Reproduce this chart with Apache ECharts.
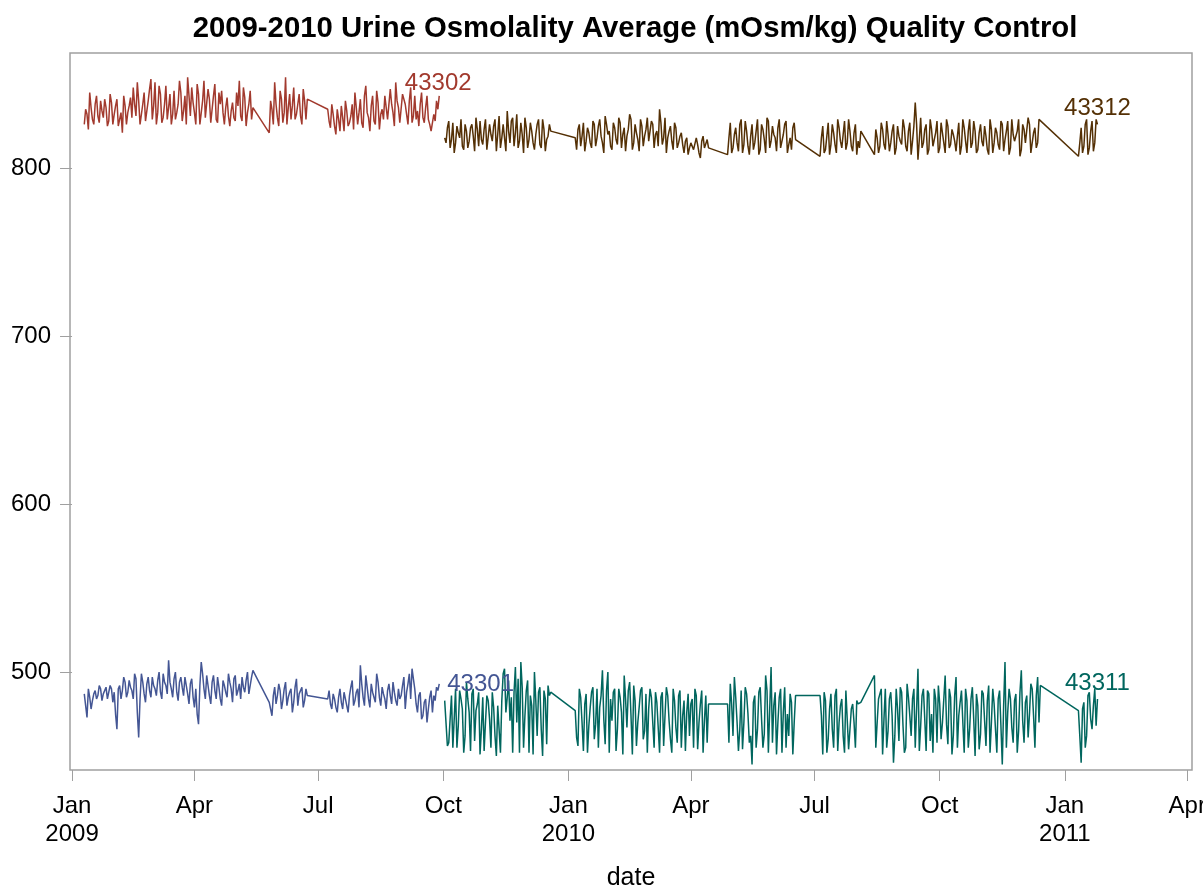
<!DOCTYPE html>
<html>
<head>
<meta charset="utf-8">
<script src="https://cdn.jsdelivr.net/npm/echarts@6/dist/echarts.min.js"></script>
<style>html,body{margin:0;padding:0;background:#fff}#c{width:1203px;height:886px}</style>
</head>
<body>
<div id="c"></div>
<script>
// Days since 2009-01-01 (two interleaved sampling lists per period)
const days09 = [9,11,13,15,17,19,21,23,25,27,29,31,33,35,37,39,41,43,45,47,49,51,53,55,57,59,61,63,65,67,69,71,73,75,77,79,81,83,85,87,89,91,93,95,97,99,101,103,105,107,109,111,113,115,117,119,121,123,125,127,129,131,133,
145,147,149,151,153,155,157,159,161,163,165,167,169,171,173,
188,190,192,194,196,198,200,202,204,206,208,210,212,214,216,218,220,222,224,226,228,230,232,234,236,238,240,242,244,246,248,250,252,254,256,258,260,262,264,266,268,270];
const days09b = [10,12,14,16,18,20,22,24,26,28,30,32,34,36,38,40,42,44,46,48,50,52,54,56,58,60,62,64,66,68,70,72,74,76,78,80,82,84,86,88,90,92,94,96,98,100,102,104,106,108,110,112,114,116,118,120,122,124,126,128,130,132,
146,148,150,152,154,156,158,160,162,164,166,168,170,172,
189,191,193,195,197,199,201,203,205,207,209,211,213,215,217,219,221,223,225,227,229,231,233,235,237,239,241,243,245,247,249,251,253,255,257,259,261,263,265,267,269];

const v43301 = [487,473,485,483,489,486,490,487,491,485,490,488,466,492,489,494,488,491,484,496,461,499,487,493,489,497,490,495,488,499,492,507,490,496,488,494,491,497,487,493,485,490,469,506,490,498,486,494,489,497,484,495,488,499,490,496,486,493,497,488,500,492,501,
482,474,491,486,489,483,494,485,490,482,496,487,491,483,486,
484,481,487,479,485,482,488,480,486,495,483,490,504,485,498,484,493,487,499,485,491,484,489,486,494,483,490,486,497,488,499,502,490,476,488,474,484,478,489,486,491,493];
const v43301b = [480,490,478,487,484,492,483,488,484,492,482,475,490,484,497,485,495,489,499,476,484,494,482,497,485,492,486,500,484,494,487,494,485,500,483,497,486,492,481,496,479,475,492,499,484,492,481,498,484,491,480,492,485,494,482,498,489,484,491,495,487,497,
478,486,481,493,478,490,480,488,476,491,480,488,479,490,
489,478,484,476,490,478,484,476,491,480,488,479,493,480,491,479,488,482,494,480,487,478,493,481,488,480,484,492,478,493,484,496,481,486,472,482,470,485,476,483,489];

const v43302 = [826,832,845,829,838,831,840,830,836,828,839,832,841,829,821,837,833,842,848,831,840,827,845,834,847,829,851,833,844,830,849,836,826,846,833,852,828,843,854,831,839,826,844,833,852,829,841,835,850,827,838,833,836,831,834,830,845,852,828,842,833,846,836,
821,835,851,830,846,827,854,836,829,848,832,844,826,840,841,
835,824,832,820,829,837,822,834,827,838,845,826,841,824,849,830,837,828,846,823,835,843,829,847,833,851,836,828,844,832,840,827,843,834,838,830,836,829,822,832,840,843];
const v43302b = [835,823,836,826,843,827,834,841,825,844,826,837,825,833,843,826,837,830,838,851,826,838,828,840,853,837,826,849,827,838,829,844,832,829,838,845,834,826,843,848,833,850,826,840,830,847,827,843,829,845,846,826,842,825,839,828,837,831,848,825,838,829,
840,826,838,825,841,833,826,844,837,829,838,831,847,829,
828,838,825,835,822,830,840,825,831,823,836,833,827,843,833,822,843,826,839,832,829,842,830,838,825,840,827,844,838,826,848,831,829,825,845,827,843,826,821,828,835];

const days10 = [274,276,278,280,282,284,286,288,290,292,294,296,298,300,302,304,306,308,310,312,314,316,318,320,322,324,326,328,330,332,334,336,338,340,342,344,346,348,350,352,
370,372,374,376,378,380,382,384,386,388,390,392,394,396,398,400,402,404,406,408,410,412,414,416,418,420,422,424,426,428,430,432,434,436,438,440,442,444,446,448,450,452,454,456,458,460,462,464,466,468,
482,484,486,488,490,492,494,496,498,500,502,504,506,508,510,512,514,516,518,520,522,524,526,528,530,532,
550,552,554,556,558,560,562,564,566,568,570,572,574,576,578,580,
590,592,594,596,598,600,602,604,606,608,610,612,614,616,618,620,622,624,626,628,630,632,634,636,638,640,642,644,646,648,650,652,654,656,658,660,662,664,666,668,670,672,674,676,678,680,682,684,686,688,690,692,694,696,698,700,702,704,706,708,710,712,
740,742,744,746,748,750,752,754];
const days10b = [275,277,279,281,283,285,287,289,291,293,295,297,299,301,303,305,307,309,311,313,315,317,319,321,323,325,327,329,331,333,335,337,339,341,343,345,347,349,351,
371,373,375,377,379,381,383,385,387,389,391,393,395,397,399,401,403,405,407,409,411,413,415,417,419,421,423,425,427,429,431,433,435,437,439,441,443,445,447,449,451,453,455,457,459,461,463,465,467,
483,485,487,489,491,493,495,497,499,501,503,505,507,509,511,513,515,517,519,521,523,525,527,529,531,
551,553,555,557,559,561,563,565,567,569,571,573,575,577,579,
591,593,595,597,599,601,603,605,607,609,611,613,615,617,619,621,623,625,627,629,631,633,635,637,639,641,643,645,647,649,651,653,655,657,659,661,663,665,667,669,671,673,675,677,679,681,683,685,687,689,691,693,695,697,699,701,703,705,707,709,711,
741,743,745,747,749,751,753];

const v43311 = [483,456,457,455,490,468,484,452,494,476,487,459,481,451,485,470,483,455,479,450,481,483,502,485,471,452,503,496,506,455,489,452,480,500,462,491,450,484,492,488,
477,456,485,453,487,468,488,460,490,479,501,457,500,484,488,453,490,476,498,467,494,451,483,470,489,460,487,478,485,455,482,452,488,474,486,460,490,467,486,455,483,476,462,484,490,454,481,452,486,481,
481,493,462,485,453,489,470,487,458,445,486,466,491,455,498,452,503,480,451,485,452,491,475,487,451,486,
486,451,483,460,487,455,490,470,484,452,488,466,481,455,481,482,
498,470,487,451,490,465,488,446,490,459,488,452,493,474,484,455,502,468,490,453,487,475,490,458,481,470,498,457,485,462,497,474,489,452,483,466,491,450,480,463,487,456,492,470,481,452,489,445,506,476,484,458,487,465,501,458,486,475,490,455,497,492,
477,446,482,462,488,466,490,484];
const v43311b = [482,458,486,472,455,489,478,462,484,453,490,477,488,466,453,486,472,488,462,480,452,499,476,495,485,488,470,452,491,474,495,486,451,483,488,466,489,457,486,
461,490,470,481,452,479,491,469,455,486,472,489,452,471,490,466,485,451,484,489,474,492,456,479,491,465,452,490,470,488,467,485,456,491,471,452,483,458,489,474,453,487,481,455,486,470,489,471,458,
458,481,497,470,466,454,491,475,462,482,455,488,472,463,489,478,458,488,470,490,476,455,462,482,470,
474,488,452,478,466,486,453,480,462,489,454,478,470,483,481,
455,484,490,472,455,484,474,462,478,491,468,455,485,462,490,478,453,486,472,489,459,452,484,492,460,484,469,490,451,486,455,482,470,490,455,484,472,487,454,489,471,483,452,490,466,484,468,480,455,490,467,483,452,488,471,482,461,493,474,486,470,
462,478,455,486,472,480,468];

const v43312 = [818,824,812,827,815,821,829,811,822,816,826,810,823,828,814,829,812,820,825,810,831,818,826,834,815,830,821,812,827,809,824,817,822,811,826,814,829,810,819,822,
818,823,813,827,816,821,812,826,818,829,815,831,820,813,827,817,830,812,824,819,832,811,826,817,829,813,823,816,828,812,822,835,814,830,818,825,811,824,815,821,809,818,812,816,810,814,806,819,813,812,
808,827,812,824,810,829,814,822,808,826,815,829,811,823,809,828,816,820,810,829,813,826,809,818,824,817,
807,825,811,827,814,821,809,824,812,828,815,822,810,826,816,822,
808,818,813,823,811,820,815,826,812,819,814,824,810,827,816,839,805,830,815,826,811,823,817,828,812,821,809,825,814,820,810,827,813,824,809,829,815,822,811,826,813,819,808,823,815,821,811,826,817,828,812,820,815,829,811,823,814,826,810,824,815,828,
807,824,813,829,812,828,815,826];
const v43312b = [815,828,817,809,825,818,813,826,812,824,819,830,813,817,823,811,826,816,829,820,812,826,810,822,828,813,832,816,820,830,812,827,815,820,829,812,823,817,826,
811,826,819,810,824,815,828,813,825,819,809,826,822,811,824,814,827,820,810,823,829,815,821,810,825,819,830,816,826,820,813,827,818,809,822,816,827,812,819,814,816,808,815,811,818,809,816,812,817,
818,809,820,815,826,809,828,813,819,811,822,808,826,817,830,812,825,818,824,812,820,828,814,811,827,
818,809,819,808,826,814,829,816,820,811,829,813,821,808,812,
823,809,827,814,828,810,822,808,825,816,829,813,822,808,825,826,817,812,823,808,829,813,821,809,827,815,829,812,823,816,819,808,829,816,822,812,828,809,821,816,825,811,829,809,824,814,828,810,822,808,829,816,822,807,826,815,830,809,821,812,829,
815,809,826,808,822,810,829];

const tickDays = [0,90,181,273,365,455,546,638,730,820];
const tickLabels = ['Jan\n2009','Apr','Jul','Oct','Jan\n2010','Apr','Jul','Oct','Jan\n2011','Apr'];
const yTicks = [500,600,700,800];

function pairs(d, v){ const n=Math.min(d.length,v.length); const out=[]; for(let i=0;i<n;i++) out.push([d[i],v[i]]); return out; }
function merged(d1, v1, d2, v2){ return pairs(d1,v1).concat(pairs(d2,v2)).sort((a,b)=>a[0]-b[0]); }

const FONT = '"Liberation Sans", Arial, sans-serif';
const chart = echarts.init(document.getElementById('c'), null, {renderer:'canvas'});

function mk(name, data, color, lab){
  return {
    name, type:'line', data, showSymbol:false, symbol:'none',
    lineStyle:{color, width:1.5}, itemStyle:{color},
    endLabel: Object.assign({show:true, formatter:'{a}', color, fontSize:24, fontFamily:FONT}, lab),
    animation:false, z:2
  };
}

chart.setOption({
  animation:false,
  backgroundColor:'#fff',
  title:{text:'2009-2010 Urine Osmolality Average (mOsm/kg) Quality Control', left:630, textAlign:'center', top:9,
    textStyle:{fontFamily:FONT, fontWeight:'bold', fontSize:29.3, color:'#000'}},
  grid:{left:70, right:11, top:53, bottom:116, show:true, borderColor:'#a0a0a0', borderWidth:1.5, backgroundColor:'#fff',
    outerBoundsMode:'none', containLabel:false},
  xAxis:{type:'value', min:-1.5, max:823.5, name:'date', nameLocation:'middle', nameGap:96,
    nameTextStyle:{fontFamily:FONT, fontSize:25, color:'#000'},
    axisLine:{show:false},
    axisTick:{show:true, length:11, customValues: tickDays, lineStyle:{color:'#a0a0a0'}},
    axisLabel:{customValues: tickDays, margin:22, fontFamily:FONT, fontSize:24, color:'#000', lineHeight:28,
      formatter:(val)=>{const i=tickDays.indexOf(Math.round(val)); return i>=0?tickLabels[i]:'';}},
    splitLine:{show:false}},
  yAxis:{type:'value', min:441.7, max:868.5,
    axisLine:{show:false},
    axisTick:{show:true, length:12, customValues:yTicks, lineStyle:{color:'#a0a0a0'}},
    axisLabel:{customValues:yTicks, margin:19, fontFamily:FONT, fontSize:24, color:'#000'},
    splitLine:{show:false}},
  series:[
    mk('43301', merged(days09, v43301, days09b, v43301b), '#445694', {align:'left', verticalAlign:'middle', distance:8, offset:[0,1]}),
    mk('43302', merged(days09, v43302, days09b, v43302b), '#A23A2E', {align:'center', verticalAlign:'middle', distance:0, offset:[-1,-12]}),
    mk('43311', merged(days10, v43311, days10b, v43311b), '#01665E', {align:'center', verticalAlign:'middle', distance:0, offset:[0,-16]}),
    mk('43312', merged(days10, v43312, days10b, v43312b), '#543005', {align:'center', verticalAlign:'middle', distance:0, offset:[0,-16]})
  ]
});
</script>
</body>
</html>
